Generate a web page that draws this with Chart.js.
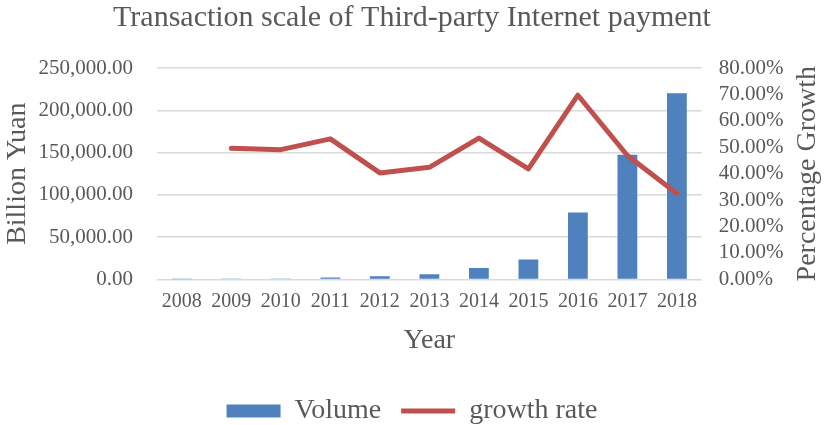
<!DOCTYPE html>
<html>
<head>
<meta charset="utf-8">
<script src="https://cdn.jsdelivr.net/npm/chart.js@4"></script>
<style>
  html, body { margin: 0; padding: 0; background: #fff; }
</style>
</head>
<body>
<canvas id="myChart" width="824" height="425"></canvas>
<script>
// Datos
const years = ['2008', '2009', '2010', '2011', '2012', '2013', '2014', '2015', '2016', '2017', '2018'];
const volume = [250, 500, 1000, 2200, 3600, 6000, 13500, 23500, 79000, 147500, 220000];
const growthRate = [null, 49.6, 49.1, 53.2, 40.3, 42.4, 53.5, 41.8, 69.7, 46.9, 32.5];

const textColor = '#595959';
const serif = '"Liberation Serif", "Times New Roman", serif';
const rightTitle = 'Percentage Growth';

// El título del eje derecho en el original se lee de abajo hacia arriba
const rightTitlePlugin = {
    id: 'rightTitle',
    afterDraw(chart) {
        const scale = chart.scales.y1;
        const c = chart.ctx;
        c.save();
        c.translate(scale.right - 16, (chart.chartArea.top + chart.chartArea.bottom) / 2);
        c.rotate(-Math.PI / 2);
        c.fillStyle = textColor;
        c.font = '28px ' + serif;
        c.textAlign = 'center';
        c.textBaseline = 'middle';
        c.fillText(rightTitle, 0, 0);
        c.restore();
    }
};

const ctx = document.getElementById('myChart').getContext('2d');
const myChart = new Chart(ctx, {
    type: 'bar',
    data: {
        labels: years,
        datasets: [{
            label: 'Volume',
            data: volume,
            backgroundColor: '#4F81BD',
            barPercentage: 0.8,
            categoryPercentage: 0.5,
            yAxisID: 'y',
            order: 1,
            pointStyle: 'rect'
        }, {
            type: 'line',
            label: 'growth rate',
            data: growthRate,
            borderColor: '#C0504D',
            backgroundColor: '#C0504D',
            borderWidth: 5,
            borderCapStyle: 'round',
            borderJoinStyle: 'round',
            pointRadius: 0,
            tension: 0,
            yAxisID: 'y1',
            order: 0,
            pointStyle: 'line'
        }]
    },
    options: {
        responsive: false,
        animation: false,
        layout: { padding: { left: 0, right: 0, top: 0, bottom: -10 } },
        plugins: {
            title: {
                display: true,
                text: 'Transaction scale of Third-party Internet payment',
                color: textColor,
                font: { family: serif, size: 30, weight: 'normal' },
                padding: { top: 0, bottom: 32 }
            },
            legend: {
                position: 'bottom',
                labels: {
                    color: textColor,
                    font: { family: serif, size: 28 },
                    usePointStyle: true,
                    pointStyleWidth: 54,
                    boxHeight: 13,
                    padding: 20,
                    sort: (a, b) => a.datasetIndex - b.datasetIndex
                }
            },
            tooltip: { enabled: false }
        },
        scales: {
            x: {
                grid: { display: false, drawTicks: false },
                border: { display: false },
                ticks: {
                    color: textColor,
                    font: { family: serif, size: 20 },
                    padding: 10,
                    maxRotation: 0
                },
                title: {
                    display: true,
                    text: 'Year',
                    color: textColor,
                    font: { family: serif, size: 28 },
                    padding: { top: 0, bottom: 20 }
                }
            },
            y: {
                position: 'left',
                min: 0,
                max: 250000,
                ticks: {
                    stepSize: 50000,
                    color: textColor,
                    font: { family: serif, size: 21 },
                    padding: 24,
                    callback: v => v.toLocaleString('en-US', { minimumFractionDigits: 2, maximumFractionDigits: 2 })
                },
                grid: { color: '#D9D9D9', lineWidth: 1.5, drawTicks: false },
                border: { display: false },
                title: {
                    display: true,
                    text: 'Billion Yuan',
                    color: textColor,
                    font: { family: serif, size: 28 },
                    padding: { top: 1, bottom: -20 }
                }
            },
            y1: {
                position: 'right',
                min: 0,
                max: 80,
                ticks: {
                    stepSize: 10,
                    autoSkip: false,
                    color: textColor,
                    font: { family: serif, size: 21 },
                    padding: 17,
                    callback: v => v.toFixed(2) + '%'
                },
                grid: { display: false, drawTicks: false },
                border: { display: false },
                title: {
                    // se reserva el espacio, el texto lo dibuja el plugin
                    display: true,
                    text: rightTitle,
                    color: 'rgba(0,0,0,0)',
                    font: { family: serif, size: 28 },
                    padding: { top: 0, bottom: -10 }
                }
            }
        }
    },
    plugins: [rightTitlePlugin]
});
</script>
</body>
</html>
